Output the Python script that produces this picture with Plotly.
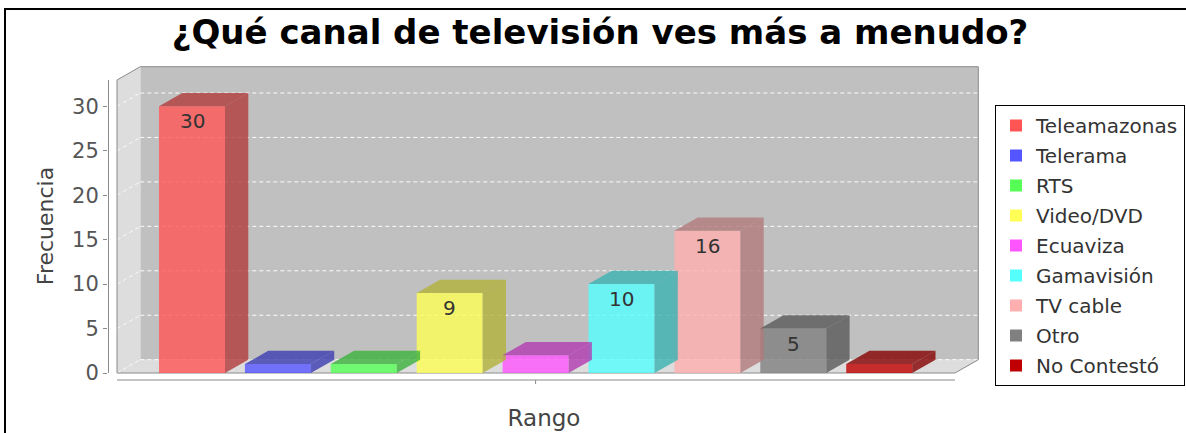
import plotly.graph_objects as go

# ---------------- data ----------------
categories = ["Teleamazonas", "Telerama", "RTS", "Video/DVD", "Ecuaviza",
              "Gamavisión", "TV cable", "Otro", "No Contestó"]
values = [30, 1, 1, 9, 2, 10, 16, 5, 1]
colors = ["#FF5555", "#5555FF", "#55FF55", "#FFFF55", "#FF55FF",
          "#55FFFF", "#FFAFAF", "#808080", "#C00000"]
y_ticks = [0, 5, 10, 15, 20, 25, 30]
title_text = "¿Qué canal de televisión ves más a menudo?"
x_title = "Rango"
y_title = "Frecuencia"

# ---------------- layout geometry (pixels) ----------------
W, H = 1186, 433
PLOT_L, PLOT_R, PLOT_T, PLOT_B = 108, 980, 60, 392
X0_PX, STEP_PX = 192, 85.9       # first category centre, category step
Y0_PX, UNIT_PX = 373, 8.89       # zero line, pixels per unit


def px_to_x(px):
    return (px - X0_PX) / STEP_PX


def py_to_y(py):
    return (Y0_PX - py) / UNIT_PX


def px_to_paper_x(px):
    return (px - PLOT_L) / (PLOT_R - PLOT_L)


def py_to_paper_y(py):
    return (PLOT_B - py) / (PLOT_B - PLOT_T)


x_range = [px_to_x(PLOT_L), px_to_x(PLOT_R)]
y_range = [py_to_y(PLOT_B), py_to_y(PLOT_T)]

BAR_W = 66 / STEP_PX
DX = 23.3 / STEP_PX
DY = 13.3 / UNIT_PX
FRONT_L = px_to_x(117)
FRONT_R = px_to_x(955)
WALL_TOP = py_to_y(80)
CAT_Y = py_to_y(380)
ALPHA = 0.8
FONT = "DejaVu Sans"


def rgba(hexc, f=1.0, a=ALPHA):
    r, g, b = (int(hexc[i:i + 2], 16) for i in (1, 3, 5))
    return f"rgba({int(r * f)},{int(g * f)},{int(b * f)},{a})"


def poly(pts):
    return "M " + " L ".join(f"{x},{y}" for x, y in pts) + " Z"


shapes = []
# back wall
shapes.append(dict(type="path", xref="x", yref="y", layer="below",
                   path=poly([(FRONT_L + DX, DY), (FRONT_R + DX, DY),
                              (FRONT_R + DX, WALL_TOP + DY), (FRONT_L + DX, WALL_TOP + DY)]),
                   fillcolor="#C0C0C0", line=dict(width=0)))
# left wall
shapes.append(dict(type="path", xref="x", yref="y", layer="below",
                   path=poly([(FRONT_L, 0), (FRONT_L, WALL_TOP),
                              (FRONT_L + DX, WALL_TOP + DY), (FRONT_L + DX, DY)]),
                   fillcolor="#DDDDDD", line=dict(width=0)))
# floor
shapes.append(dict(type="path", xref="x", yref="y", layer="below",
                   path=poly([(FRONT_L, 0), (FRONT_R, 0),
                              (FRONT_R + DX, DY), (FRONT_L + DX, DY)]),
                   fillcolor="#DDDDDD", line=dict(width=0)))
# grid lines on the walls
for v in y_ticks:
    shapes.append(dict(type="line", xref="x", yref="y", layer="below",
                       x0=FRONT_L + DX, x1=FRONT_R + DX, y0=v + DY, y1=v + DY,
                       line=dict(color="rgba(255,255,255,0.95)", width=1, dash="4px,3px")))
    shapes.append(dict(type="line", xref="x", yref="y", layer="below",
                       x0=FRONT_L, x1=FRONT_L + DX, y0=v, y1=v + DY,
                       line=dict(color="rgba(255,255,255,0.8)", width=1, dash="4px,3px")))
# outline of the 3D box
shapes.append(dict(type="path", xref="x", yref="y", layer="below",
                   path=poly([(FRONT_L, 0), (FRONT_L, WALL_TOP),
                              (FRONT_L + DX, WALL_TOP + DY), (FRONT_R + DX, WALL_TOP + DY),
                              (FRONT_R + DX, DY), (FRONT_R, 0)]),
                   fillcolor="rgba(0,0,0,0)", line=dict(color="#8A8A8A", width=1)))
# value axis line
shapes.append(dict(type="line", xref="x", yref="y", layer="above",
                   x0=px_to_x(PLOT_L + 0.5), x1=px_to_x(PLOT_L + 0.5), y0=0, y1=WALL_TOP,
                   line=dict(color="#8A8A8A", width=1)))
# category axis line + tick
cat_mid = (len(categories) - 1) / 2
shapes.append(dict(type="line", xref="x", yref="y", layer="above",
                   x0=FRONT_L, x1=FRONT_R, y0=CAT_Y, y1=CAT_Y,
                   line=dict(color="#8A8A8A", width=1)))
shapes.append(dict(type="line", xref="x", yref="y", layer="above",
                   x0=cat_mid, x1=cat_mid, y0=CAT_Y, y1=py_to_y(384),
                   line=dict(color="#8A8A8A", width=1)))
# frame of the picture (top and left borders)
shapes.append(dict(type="line", xref="paper", yref="paper",
                   x0=px_to_paper_x(4), x1=px_to_paper_x(W + 5), y0=py_to_paper_y(9), y1=py_to_paper_y(9),
                   line=dict(color="black", width=2)))
shapes.append(dict(type="line", xref="paper", yref="paper",
                   x0=px_to_paper_x(5), x1=px_to_paper_x(5), y0=py_to_paper_y(9), y1=py_to_paper_y(H + 5),
                   line=dict(color="black", width=2)))

fig = go.Figure()

# bars: front face (bar), then top and side faces (3D effect)
for i, (name, v, c) in enumerate(zip(categories, values, colors)):
    fig.add_trace(go.Bar(x=[i], y=[v], width=BAR_W, name=name,
                         marker=dict(color=rgba(c), line=dict(width=0)),
                         showlegend=False, hovertemplate=f"{name}: %{{y}}<extra></extra>"))
for i, (name, v, c) in enumerate(zip(categories, values, colors)):
    x0, x1 = i - BAR_W / 2, i + BAR_W / 2
    top = [(x0, v), (x1, v), (x1 + DX, v + DY), (x0 + DX, v + DY), (x0, v)]
    side = [(x1, 0), (x1, v), (x1 + DX, v + DY), (x1 + DX, DY), (x1, 0)]
    for pts in (side, top):
        fig.add_trace(go.Scatter(x=[p[0] for p in pts], y=[p[1] for p in pts],
                                 mode="lines", fill="toself", fillcolor=rgba(c, 0.7),
                                 line=dict(width=0), hoverinfo="skip", showlegend=False))

# legend entries (pure series colours)
for name, c in zip(categories, colors):
    fig.add_trace(go.Scatter(x=[None], y=[None], mode="markers", name=name, legendgroup=name,
                             marker=dict(symbol="square", size=12, color=c, line=dict(width=0))))

# value labels inside the bars (only where they fit)
annotations = []
for i, v in enumerate(values):
    if v * UNIT_PX >= 30:
        annotations.append(dict(x=i, y=v, xref="x", yref="y", text=str(v), showarrow=False,
                                yanchor="top", yshift=-1,
                                font=dict(family=FONT, size=20, color="#333333")))

fig.update_layout(
    width=W, height=H,
    margin=dict(l=PLOT_L, r=W - PLOT_R, t=PLOT_T, b=H - PLOT_B, pad=0, autoexpand=False),
    paper_bgcolor="white", plot_bgcolor="white",
    font=dict(family=FONT, color="#444444"),
    barmode="overlay",
    shapes=shapes,
    annotations=annotations,
    title=dict(text=title_text, x=600 / W, xanchor="center", y=1 - 32 / H, yanchor="middle",
               font=dict(family=FONT, size=34, color="black", weight="bold")),
    xaxis=dict(range=x_range, showgrid=False, zeroline=False, showline=False,
               showticklabels=False, ticks="", fixedrange=True,
               title=dict(text=x_title, standoff=17, font=dict(family=FONT, size=23, color="#444444"))),
    yaxis=dict(range=y_range, tickvals=y_ticks, ticks="outside", ticklen=4, tickcolor="#8A8A8A",
               showgrid=False, zeroline=False, showline=False, ticklabelstandoff=0,
               tickfont=dict(family=FONT, size=21, color="#555555"), fixedrange=True,
               title=dict(text=y_title, standoff=12, font=dict(family=FONT, size=22, color="#444444"))),
    legend=dict(x=px_to_paper_x(995), y=py_to_paper_y(105), xanchor="left", yanchor="top",
                bgcolor="white", bordercolor="black", borderwidth=1,
                font=dict(family=FONT, size=20, color="#333333"),
                tracegroupgap=1, itemsizing="constant"),
    showlegend=True,
)

fig.write_html("out.html", config={"displayModeBar": False},
               post_script="document.body.style.margin='0px';document.body.style.overflow='hidden';")
